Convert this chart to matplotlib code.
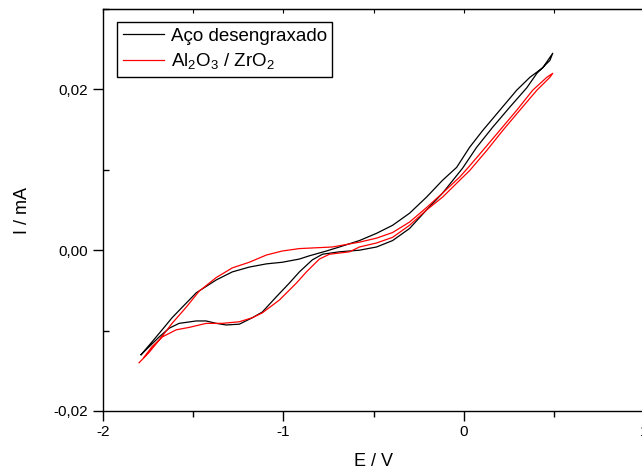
import matplotlib
matplotlib.use("Agg")
import matplotlib.pyplot as plt
from matplotlib.ticker import FixedLocator, FixedFormatter, MultipleLocator

plt.rcParams['font.family'] = ['Liberation Sans', 'DejaVu Sans']
plt.rcParams['mathtext.fontset'] = 'custom'
plt.rcParams['mathtext.rm'] = 'Liberation Sans'
plt.rcParams['mathtext.it'] = 'Liberation Sans:italic'
plt.rcParams['axes.unicode_minus'] = False

# ---- dados ----
# Aco desengraxado: ida (ramo superior) e volta (ramo inferior)
aco_e_ida = [-1.789, -1.728, -1.672, -1.617, -1.561, -1.483, -1.372, -1.283, -1.189,
             -1.094, -1.006, -0.911, -0.856, -0.761, -0.689, -0.578, -0.483, -0.394,
             -0.300, -0.206, -0.117, -0.039, 0.033, 0.106, 0.200, 0.294, 0.367, 0.439, 0.494]
aco_i_ida = [-0.0130, -0.0114, -0.0099, -0.0084, -0.0071, -0.0053, -0.0037, -0.0027, -0.0021,
             -0.0017, -0.0015, -0.0011, -0.0007, -0.0001, 0.0004, 0.0012, 0.0021, 0.0031,
             0.0046, 0.0066, 0.0087, 0.0103, 0.0128, 0.0149, 0.0174, 0.0199, 0.0215, 0.0227, 0.0245]
aco_e_volta = [0.478, 0.406, 0.350, 0.256, 0.161, 0.072, -0.006, -0.117, -0.206, -0.300,
               -0.394, -0.483, -0.578, -0.689, -0.783, -0.839, -0.911, -0.967, -1.039,
               -1.117, -1.172, -1.244, -1.317, -1.372, -1.428, -1.483, -1.578, -1.633,
               -1.689, -1.744, -1.789]
aco_i_volta = [0.0236, 0.0220, 0.0202, 0.0178, 0.0153, 0.0128, 0.0102, 0.0071, 0.0050, 0.0027,
               0.0012, 0.0004, 0.0000, -0.0002, -0.0005, -0.0012, -0.0027, -0.0041, -0.0058,
               -0.0077, -0.0084, -0.0092, -0.0093, -0.0091, -0.0088, -0.0088, -0.0091, -0.0097,
               -0.0108, -0.0120, -0.0130]

# Al2O3 / ZrO2
alzr_e_ida = [-1.800, -1.744, -1.689, -1.617, -1.539, -1.467, -1.372, -1.283, -1.189, -1.094,
              -1.006, -0.911, -0.728, -0.578, -0.483, -0.394, -0.300, -0.206, -0.117, -0.022,
              0.022, 0.106, 0.200, 0.294, 0.383, 0.461, 0.494]
alzr_i_ida = [-0.0140, -0.0127, -0.0112, -0.0091, -0.0071, -0.0051, -0.0034, -0.0022, -0.0015,
              -0.0006, -0.0001, 0.0002, 0.0004, 0.0010, 0.0015, 0.0022, 0.0035, 0.0053, 0.0071,
              0.0091, 0.0102, 0.0124, 0.0149, 0.0174, 0.0199, 0.0215, 0.0220]
alzr_e_volta = [0.478, 0.406, 0.311, 0.217, 0.128, 0.033, -0.022, -0.117, -0.206, -0.300,
                -0.394, -0.483, -0.578, -0.633, -0.744, -0.800, -0.872, -0.928, -1.022, -1.117,
                -1.172, -1.244, -1.339, -1.428, -1.522, -1.594, -1.672, -1.728, -1.772]
alzr_i_volta = [0.0215, 0.0199, 0.0174, 0.0149, 0.0124, 0.0099, 0.0087, 0.0066, 0.0050, 0.0031,
                0.0016, 0.0009, 0.0004, -0.0002, -0.0005, -0.0011, -0.0027, -0.0041, -0.0062,
                -0.0078, -0.0084, -0.0089, -0.0091, -0.0091, -0.0096, -0.0099, -0.0108, -0.0120,
                -0.0133]

x_ticks = [-2, -1, 0, 1]
x_labels = ['-2', '-1', '0', '1']
y_ticks = [-0.02, 0.0, 0.02]
y_labels = ['-0,02', '0,00', '0,02']

# ---- grafico ----
fig = plt.figure(figsize=(6.42, 4.71), dpi=100)
ax = fig.add_axes([103 / 642, 60 / 471, 541 / 642, 402 / 471])

ax.plot(aco_e_ida + aco_e_volta, aco_i_ida + aco_i_volta, color='black', lw=0.9,
        label='Aço desengraxado')
ax.plot(alzr_e_ida + alzr_e_volta, alzr_i_ida + alzr_i_volta, color='#ff0000', lw=0.9,
        label=r'Al$_2$O$_3$ / ZrO$_2$')

ax.set_xlim(-2, 1)
ax.set_ylim(-0.02, 0.03)

ax.xaxis.set_major_locator(FixedLocator(x_ticks))
ax.xaxis.set_major_formatter(FixedFormatter(x_labels))
ax.xaxis.set_minor_locator(MultipleLocator(0.5))
ax.yaxis.set_major_locator(FixedLocator(y_ticks))
ax.yaxis.set_major_formatter(FixedFormatter(y_labels))
ax.yaxis.set_minor_locator(MultipleLocator(0.01))

ax.tick_params(axis='x', which='major', direction='out', length=7, width=1, labelsize=11, pad=3)
ax.tick_params(axis='x', which='minor', direction='out', length=4, width=1)
ax.tick_params(axis='y', which='major', direction='out', length=7, width=1, labelsize=11, pad=4)
ax.tick_params(axis='y', which='minor', direction='in', length=4, width=1)
for s in ax.spines.values():
    s.set_linewidth(1.0)

# eixo superior com marcas pequenas para dentro
top = ax.secondary_xaxis('top')
top.xaxis.set_major_locator(MultipleLocator(0.5))
top.tick_params(direction='in', length=3, width=0.8, labeltop=False)

ax.set_xlabel('E / V', fontsize=13)
ax.set_ylabel('I / mA', fontsize=13)
ax.xaxis.set_label_coords(0.5, -0.104)
ax.yaxis.set_label_coords(-0.133, 0.5)

leg = ax.legend(loc='upper left', bbox_to_anchor=(0.026, 0.968), borderaxespad=0,
                fontsize=13.5, handlelength=2.2, handletextpad=0.35, borderpad=0.3,
                labelspacing=0.35, fancybox=False, framealpha=1, edgecolor='black')
leg.get_frame().set_linewidth(1.0)

plt.savefig('out.png', dpi=100)
